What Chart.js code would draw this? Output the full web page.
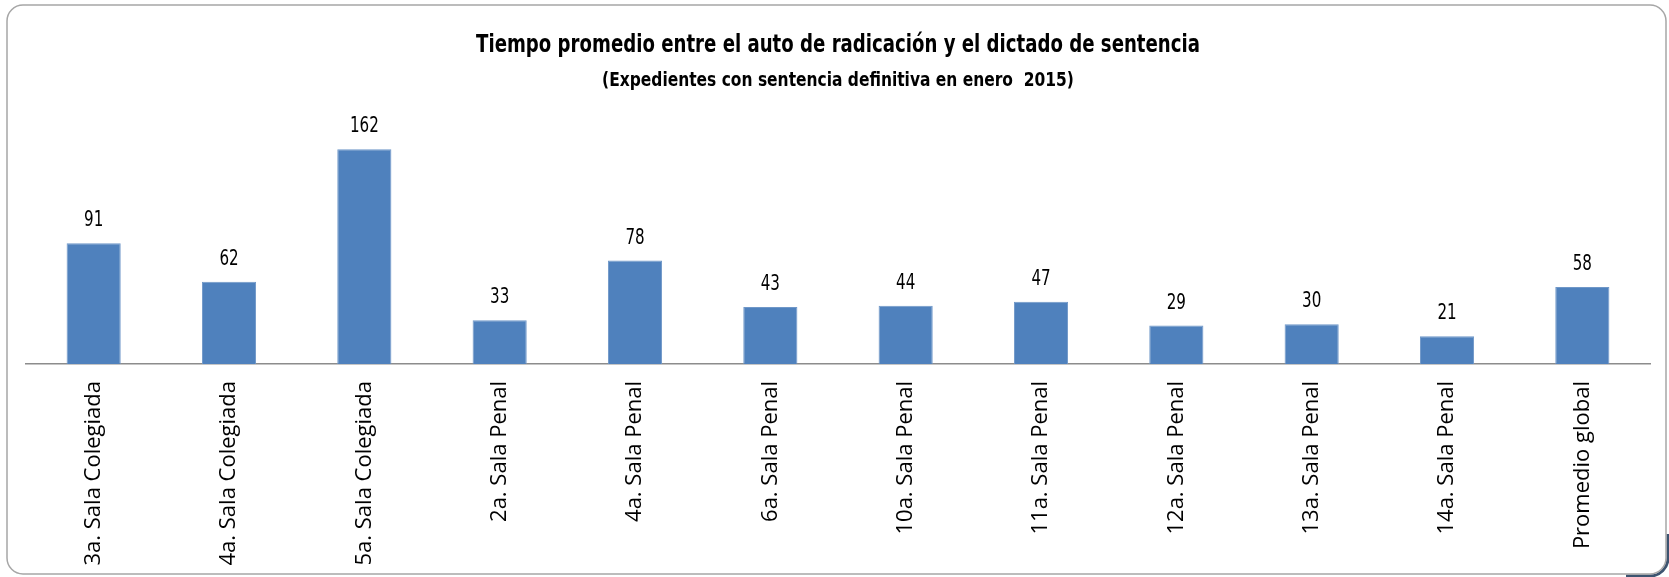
<!DOCTYPE html>
<html>
<head>
<meta charset="utf-8">
<script src="https://cdn.jsdelivr.net/npm/chart.js@4.4.1/dist/chart.umd.min.js"></script>
<style>
  html, body { margin: 0; padding: 0; background: #fff; }
  #wrap { position: relative; width: 1669px; height: 577px; }
</style>
</head>
<body>
<div id="wrap"><canvas id="chart" width="1669" height="577"></canvas></div>
<script>
    'use strict';

    // Categorias (eje X)
    const salas = [
        '3a. Sala Colegiada', '4a. Sala Colegiada', '5a. Sala Colegiada',
        '2a. Sala Penal', '4a. Sala Penal', '6a. Sala Penal', '10a. Sala Penal',
        '11a. Sala Penal', '12a. Sala Penal', '13a. Sala Penal', '14a. Sala Penal',
        'Promedio global'
    ];

    // Dias promedio
    const diasPromedio = [91, 62, 162, 33, 78, 43, 44, 47, 29, 30, 21, 58];

    const tituloTexto = 'Tiempo promedio entre el auto de radicación y el dictado de sentencia';
    const subtituloTexto = '(Expedientes con sentencia definitiva en enero  2015)';

    const narrowFont = '"Liberation Sans Narrow", "DejaVu Sans Condensed", sans-serif';

    /**
     * Texto comprimido horizontalmente (imita Calibri)
     */
    function drawNarrowText(ctx, text, x, y, font, squeeze) {
        ctx.save();
        ctx.translate(x, y);
        ctx.scale(squeeze, 1);
        ctx.font = font;
        ctx.fillText(text, 0, 0);
        ctx.restore();
    }

    /**
     * Marco redondeado del grafico
     */
    const frameBorder = {
        id: 'frameBorder',
        beforeDraw: function(chart) {
            const ctx = chart.ctx;
            const x = 7, y = 5, w = 1659, h = 569, r = 16;
            ctx.save();
            ctx.fillStyle = '#ffffff';
            ctx.fillRect(0, 0, chart.width, chart.height);
            // sombra esquina inferior derecha
            ctx.beginPath();
            ctx.moveTo(x + w - 40, y + h + 2);
            ctx.arcTo(x + w + 2, y + h + 2, x + w + 2, y + h - 40, r + 2);
            ctx.lineTo(x + w + 2, y + h - 40);
            ctx.strokeStyle = '#3d5470';
            ctx.lineWidth = 3;
            ctx.stroke();
            ctx.beginPath();
            ctx.roundRect(x, y, w, h, r);
            ctx.strokeStyle = '#a6a6a6';
            ctx.lineWidth = 1.5;
            ctx.stroke();
            ctx.restore();
        }
    };

    /**
     * Titulo y subtitulo centrados sobre el area del grafico
     */
    const headerText = {
        id: 'headerText',
        afterDraw: function(chart) {
            const ctx = chart.ctx;
            const area = chart.chartArea;
            const cx = (area.left + area.right) / 2;
            ctx.save();
            ctx.fillStyle = '#000000';
            ctx.textAlign = 'center';
            ctx.textBaseline = 'alphabetic';
            drawNarrowText(ctx, tituloTexto, cx, 52, 'bold 24px ' + narrowFont, 0.84);
            drawNarrowText(ctx, subtituloTexto, cx, 86, 'bold 20px ' + narrowFont, 0.86);
            ctx.restore();
        }
    };

    /**
     * Etiquetas de valor sobre cada barra
     */
    const valueLabels = {
        id: 'valueLabels',
        afterDatasetsDraw: function(chart) {
            const ctx = chart.ctx;
            const meta = chart.getDatasetMeta(0);
            ctx.save();
            ctx.fillStyle = '#000000';
            ctx.textAlign = 'center';
            ctx.textBaseline = 'alphabetic';
            meta.data.forEach(function(bar, i) {
                drawNarrowText(ctx, String(diasPromedio[i]), bar.x, bar.y - 17,
                    '21px ' + narrowFont, 0.8);
            });
            ctx.restore();
        }
    };

    const ctx = document.getElementById('chart').getContext('2d');

    new Chart(ctx, {
        type: 'bar',
        data: {
            labels: salas,
            datasets: [{
                data: diasPromedio,
                backgroundColor: '#4f81bd',
                borderColor: '#6f97c8',
                borderWidth: { top: 1, left: 1, right: 1, bottom: 0 },
                categoryPercentage: 1.0,
                barPercentage: 0.4
            }]
        },
        options: {
            responsive: false,
            animation: false,
            layout: {
                padding: { left: 26, right: 19, top: 124, bottom: 0 }
            },
            plugins: {
                legend: { display: false },
                tooltip: { enabled: false },
                title: { display: false }
            },
            scales: {
                x: {
                    grid: { display: false },
                    border: { display: true, color: '#8c8c8c', width: 1.5 },
                    ticks: {
                        color: '#000000',
                        font: { family: '"Open Sans", sans-serif', size: 22 },
                        minRotation: 90,
                        maxRotation: 90,
                        autoSkip: false,
                        padding: 9
                    },
                    afterFit: function(scale) {
                        scale.height = 577 - 364;
                    }
                },
                y: {
                    display: false,
                    min: 0,
                    max: 181
                }
            }
        },
        plugins: [frameBorder, valueLabels, headerText]
    });
</script>
</body>
</html>
